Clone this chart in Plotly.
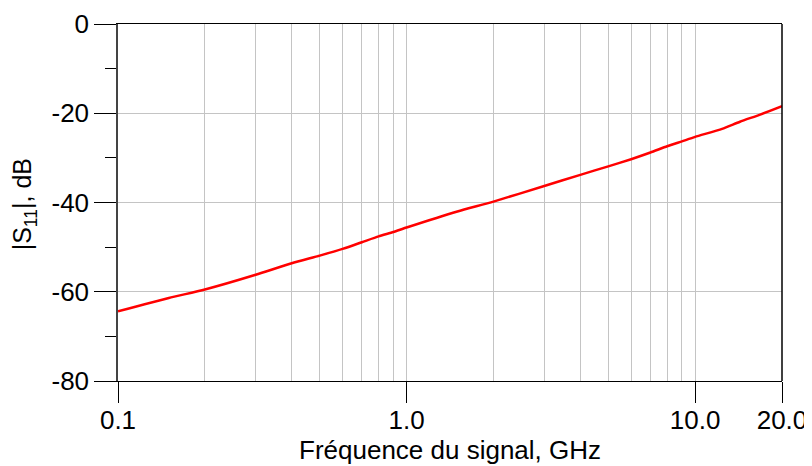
import plotly.graph_objects as go

# |S11|
freq_ghz = [0.1, 0.15, 0.2, 0.3, 0.4, 0.5, 0.6, 0.7, 0.8, 0.9, 1.0, 1.5, 2.0,
            3.0, 4.0, 5.0, 6.0, 7.0, 8.0, 9.0, 10.0, 12.4, 14.3, 16.8, 20.0]
s11_db = [-64.4, -61.4, -59.5, -56.2, -53.6, -51.9, -50.4, -48.9, -47.6, -46.6,
          -45.6, -42.0, -39.8, -36.3, -33.8, -31.9, -30.3, -28.8, -27.4, -26.3,
          -25.3, -23.5, -21.9, -20.3, -18.4]

x_tickvals = [0.1, 1.0, 10.0, 20.0]
x_ticktext = ["0.1", "1.0", "10.0", "20.0"]
x_minor = [0.2, 0.3, 0.4, 0.5, 0.6, 0.7, 0.8, 0.9, 2, 3, 4, 5, 6, 7, 8, 9]
y_tickvals = [-80, -60, -40, -20, 0]
y_ticktext = ["-80", "-60", "-40", "-20", "0"]

font = "Liberation Sans, Arial, sans-serif"
grid = "#c4c4c4"

fig = go.Figure()
fig.add_trace(go.Scatter(
    x=freq_ghz, y=s11_db, mode="lines",
    line=dict(color="#ff0000", width=2.5, shape="spline", smoothing=0.6),
    showlegend=False,
))

# page body adds an 8px offset, so margins are shifted by 8px
fig.update_layout(
    width=812, height=466,
    margin=dict(l=110, r=38, t=16, b=93),
    paper_bgcolor="white", plot_bgcolor="white",
    font=dict(family=font, size=26, color="black"),
    xaxis=dict(
        type="log", range=[-1, 1.30103], automargin=False,
        tickvals=x_tickvals, ticktext=x_ticktext,
        ticks="outside", ticklen=21, tickwidth=1, tickcolor="black",
        ticklabelstandoff=-5,
        showgrid=True, gridcolor=grid, gridwidth=1,
        showline=True, linecolor="black", linewidth=1, mirror=True,
        minor=dict(tickvals=x_minor, showgrid=True, gridcolor=grid, ticks=""),
        tickfont=dict(size=26),
        zeroline=False,
    ),
    yaxis=dict(
        range=[-80, 0], automargin=False,
        tickvals=y_tickvals, ticktext=y_ticktext,
        ticks="outside", ticklen=22, tickwidth=1, tickcolor="black",
        showgrid=True, gridcolor=grid, gridwidth=1,
        showline=True, linecolor="#444444", linewidth=1.5,
        minor=dict(dtick=10, ticks="outside", ticklen=11, tickcolor="black", showgrid=False),
        tickfont=dict(size=26),
        zeroline=False,
    ),
    shapes=[dict(type="line", xref="paper", yref="paper", x0=1, x1=1, y0=0, y1=1,
                 line=dict(color="black", width=1.5))],
    annotations=[
        dict(text="Fréquence du signal, GHz", xref="paper", yref="paper",
             x=0.5, y=-0.193, xanchor="center", yanchor="middle",
             showarrow=False, font=dict(size=26)),
        dict(text="|S<sub>11</sub>|, dB", xref="paper", yref="paper",
             x=-0.141, y=0.496, xanchor="center", yanchor="middle",
             textangle=-90, showarrow=False, font=dict(size=25)),
    ],
)

fig.write_html("out.html")
